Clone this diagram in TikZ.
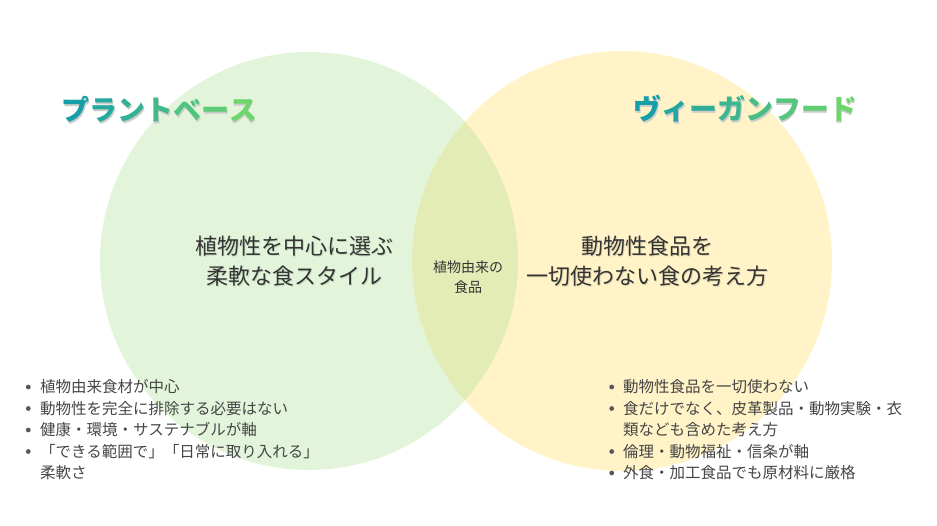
\documentclass[tikz,border=0pt]{standalone}
\usepackage{fontspec}
\setmainfont{Noto Sans CJK JP}
\definecolor{leafgreen}{HTML}{E2F5DA}
\definecolor{cream}{HTML}{FFF3C7}
\definecolor{overlap}{HTML}{E4ECB6}
\definecolor{tealstart}{HTML}{169FA8}
\definecolor{limeend}{HTML}{6CD56B}
\definecolor{ink}{HTML}{333333}
\definecolor{listink}{HTML}{454545}
\definecolor{haze}{HTML}{C9CCC9}

\begin{document}
\begin{tikzpicture}[x=1pt,y=-1pt,
    title/.style={font=\fontsize{28}{30}\selectfont\bfseries,inner sep=0pt},
    lead/.style={font=\fontsize{22}{30}\selectfont,text=ink,align=center,inner sep=0pt},
    lead shadow/.style={lead,text=black,opacity=.12},
    shared/.style={font=\fontsize{14}{20}\selectfont,text=ink,align=center,inner sep=0pt},
    item/.style={font=\fontsize{15.5}{21.5}\selectfont,text=listink,align=left,inner sep=0pt,anchor=west},
    dot/.style={fill=listink!90,draw=none}]
      \useasboundingbox (0,0) rectangle (937,525);
      \coordinate (plant center) at (309,261);
      \coordinate (vegan center) at (622,261);
      \fill[leafgreen] (plant center) circle (209);
      \fill[cream] (vegan center) circle (210);
      \begin{scope}
        \clip (plant center) circle (209);
        \fill[overlap] (vegan center) circle (210);
      \end{scope}
      % titles (shadow set under the letters)
      \node[title] (plant title) at (159,110) {\rlap{\raisebox{-2pt}{\hspace{1.5pt}\textcolor{haze}{プラントベース}}}\textcolor{tealstart}{プ}\textcolor{limeend!17!tealstart}{ラ}\textcolor{limeend!33!tealstart}{ン}\textcolor{limeend!50!tealstart}{ト}\textcolor{limeend!67!tealstart}{ベ}\textcolor{limeend!83!tealstart}{ー}\textcolor{limeend}{ス}};
      \node[title] (vegan title) at (745,110) {\rlap{\raisebox{-2pt}{\hspace{1.5pt}\textcolor{haze}{ヴィーガンフード}}}\textcolor{tealstart}{ヴ}\textcolor{limeend!14!tealstart}{ィ}\textcolor{limeend!29!tealstart}{ー}\textcolor{limeend!43!tealstart}{ガ}\textcolor{limeend!57!tealstart}{ン}\textcolor{limeend!71!tealstart}{フ}\textcolor{limeend!86!tealstart}{ー}\textcolor{limeend}{ド}};
      % descriptions
      \node[lead shadow] at (295,262.5) {植物性を中心に選ぶ\\柔軟な食スタイル};
      \node[lead] (plant lead) at (294,261) {植物性を中心に選ぶ\\柔軟な食スタイル};
      \node[lead shadow] at (648.5,262.5) {動物性食品を\\一切使わない食の考え方};
      \node[lead] (vegan lead) at (647.5,261) {動物性食品を\\一切使わない食の考え方};
      \node[shared] (shared) at (468,277) {植物由来の\\食品};
      % lists
      \node[item] (plant item 1) at (40,387) {植物由来食材が中心};
      \node[item] (plant item 2) at (40,408.5) {動物性を完全に排除する必要はない};
      \node[item] (plant item 3) at (40,430) {健康・環境・サステナブルが軸};
      \node[item] (plant item 4) at (40,462.25) {「できる範囲で」「日常に取り入れる」\\柔軟さ};
      \node[item] (vegan item 1) at (623,387) {動物性食品を一切使わない};
      \node[item] (vegan item 2) at (623,419.25) {食だけでなく、皮革製品・動物実験・衣\\類なども含めた考え方};
      \node[item] (vegan item 3) at (623,451.5) {倫理・動物福祉・信条が軸};
      \node[item] (vegan item 4) at (623,473) {外食・加工食品でも原材料に厳格};
      \foreach \y in {387,408.5,430,451.5}
        \fill[dot] (28.3,\y) circle (2.4);
      \foreach \y in {387,408.5,451.5,473}
        \fill[dot] (611.7,\y) circle (2.4);
    \end{tikzpicture}
\end{document}
